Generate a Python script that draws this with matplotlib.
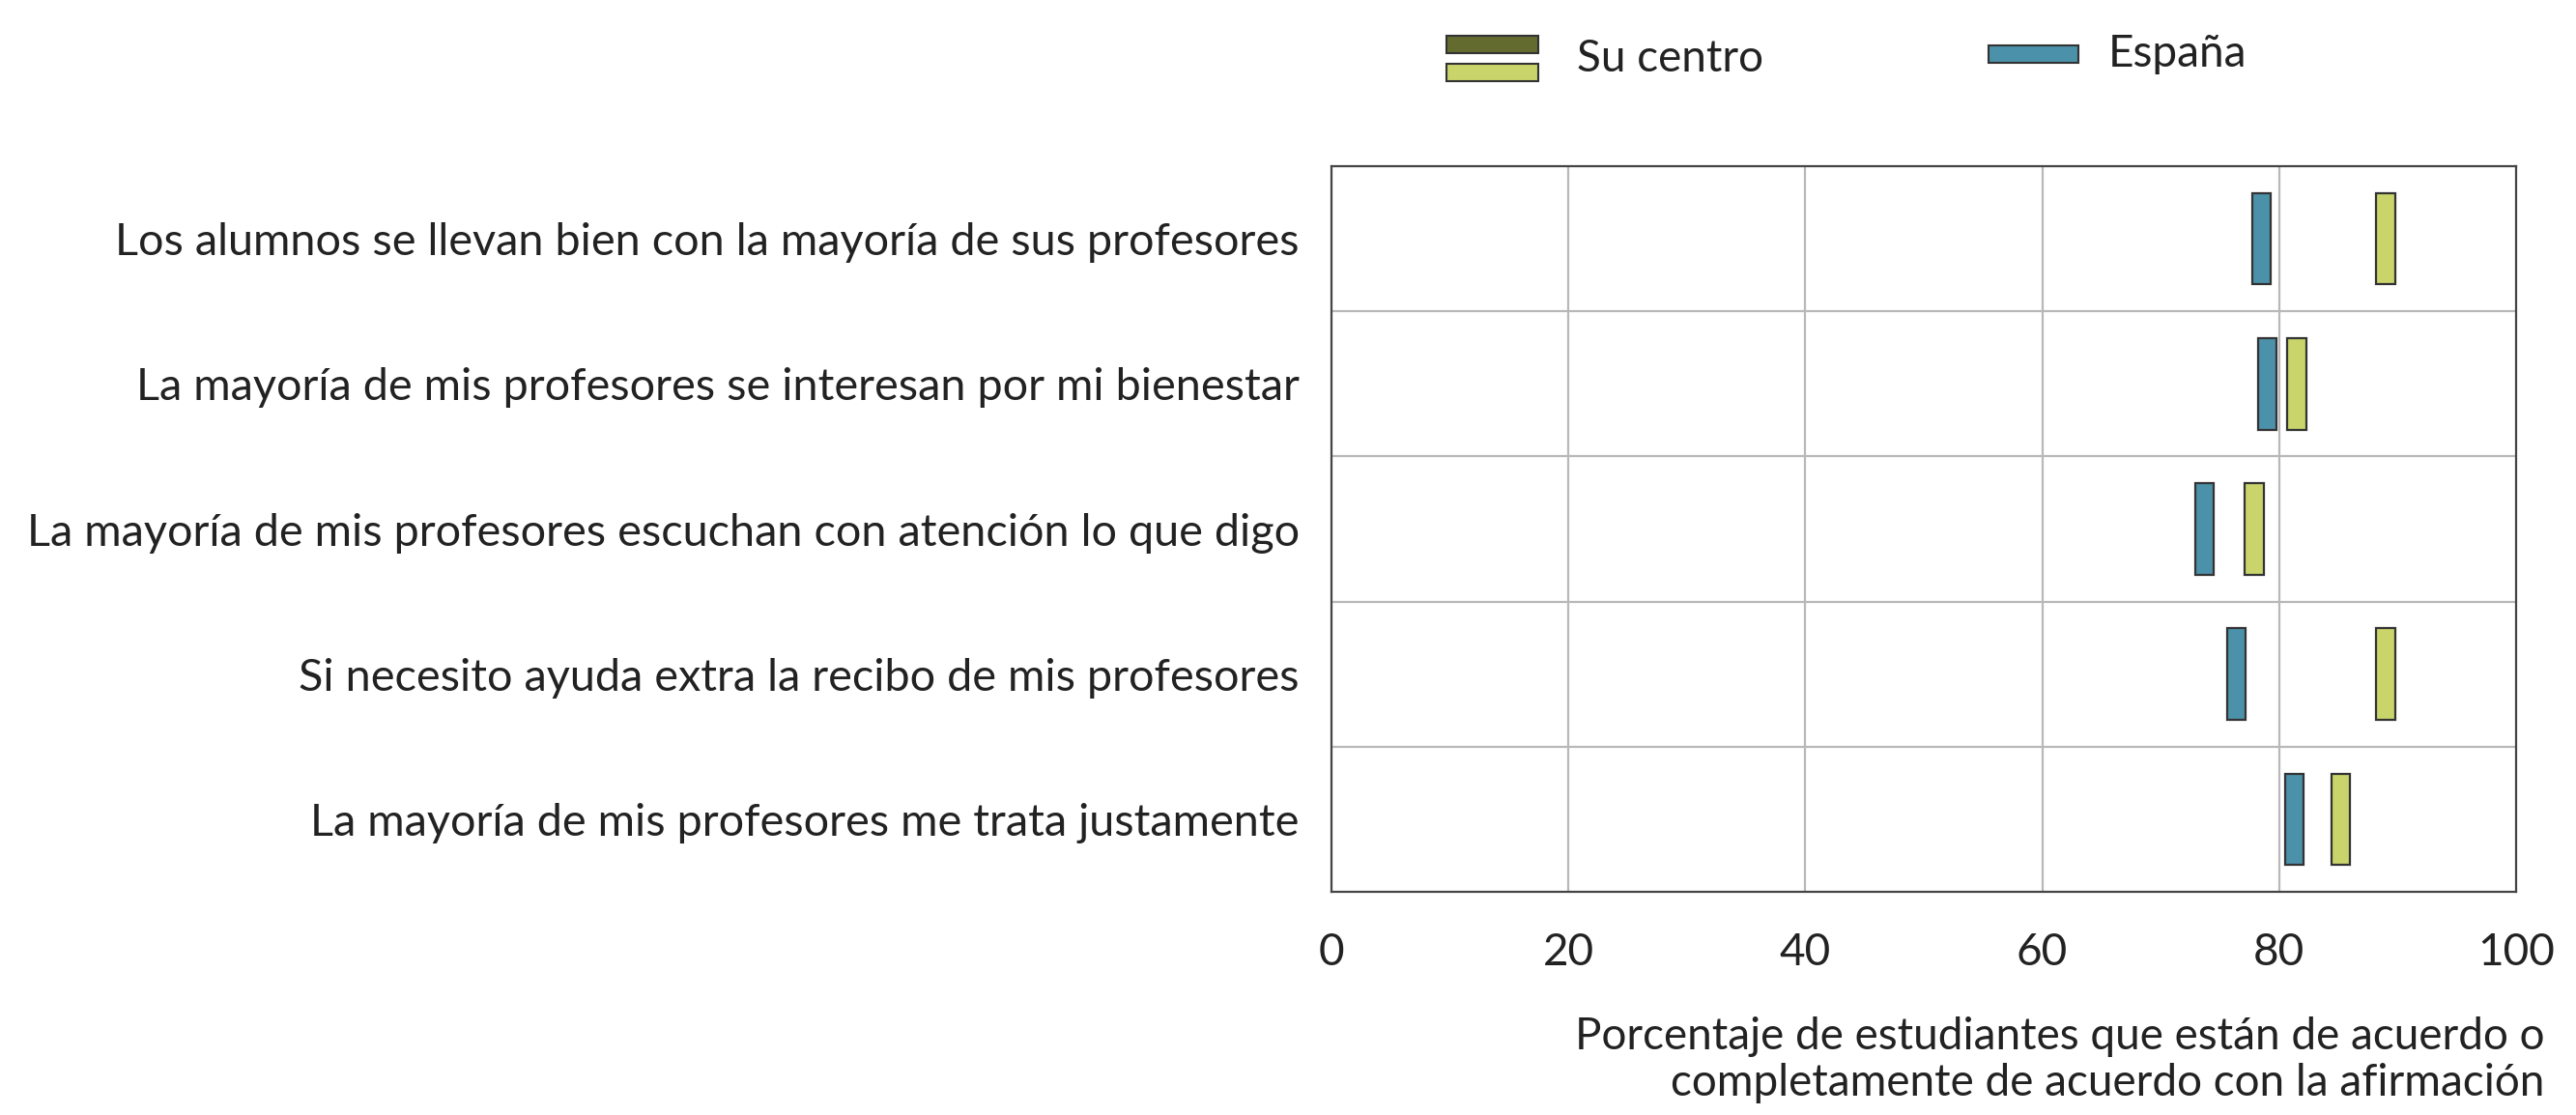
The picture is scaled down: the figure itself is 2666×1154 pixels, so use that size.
import matplotlib

matplotlib.use("Agg")
import matplotlib.pyplot as plt
from matplotlib.patches import Rectangle
import numpy as np

# Data
statements = [
    "Los alumnos se llevan bien con la mayoría de sus profesores",
    "La mayoría de mis profesores se interesan por mi bienestar",
    "La mayoría de mis profesores escuchan con atención lo que digo",
    "Si necesito ayuda extra la recibo de mis profesores",
    "La mayoría de mis profesores me trata justamente",
]
espana = [78.5, 79.0, 73.7, 76.4, 81.3]
su_centro = [89.0, 81.5, 77.9, 89.0, 85.2]
x_ticks = [0, 20, 40, 60, 80, 100]
x_label = (
    "Porcentaje de estudiantes que están de acuerdo o\n"
    "completamente de acuerdo con la afirmación"
)

BLUE = "#4b91a9"
LIGHT_GREEN = "#c9d46b"
DARK_OLIVE = "#646b2e"
EDGE = "#333333"
GRID = "#b8b8b8"

plt.rcParams["font.family"] = ["Lato", "DejaVu Sans"]

fig = plt.figure(figsize=(26.66, 11.54), dpi=100)
ax = fig.add_axes((0.5169, 0.2, 0.4598, 0.651))

n = len(statements)
rows = np.arange(n)[::-1]  # first statement at top
bar_h = 0.63
bar_w = 1.6

ax.bar(espana, bar_h, width=bar_w, bottom=rows - bar_h / 2,
       color=BLUE, edgecolor=EDGE, linewidth=1.6, zorder=3)
ax.bar(su_centro, bar_h, width=bar_w, bottom=rows - bar_h / 2,
       color=LIGHT_GREEN, edgecolor=EDGE, linewidth=1.6, zorder=3)

ax.set_xlim(0, 100)
ax.set_ylim(-0.5, n - 0.5)

ax.set_xticks(x_ticks)
ax.set_xticklabels([str(t) for t in x_ticks], fontsize=33, color="#222222")
ax.set_yticks(rows)
ax.set_yticklabels(statements, fontsize=33.7, color="#222222")
ax.tick_params(axis="x", length=0, pad=30)
ax.tick_params(axis="y", length=0, pad=24)

# grid: vertical lines at ticks, horizontal lines between rows
for t in x_ticks[1:-1]:
    ax.axvline(t, color=GRID, linewidth=1.6, zorder=1)
for b in np.arange(0.5, n - 0.5, 1.0):
    ax.axhline(b, color=GRID, linewidth=1.6, zorder=1)

for spine in ax.spines.values():
    spine.set_color("#444444")
    spine.set_linewidth(1.6)

ax.set_xlabel(x_label, fontsize=33, color="#222222", ha="right",
              multialignment="right", linespacing=1.15)
ax.xaxis.set_label_coords(1.024, -0.172, transform=ax.transAxes)
ax.xaxis.label.set_va("top")

# legend drawn by hand to mirror the stacked patches in the reference
W, H = 2666, 1154


def fig_rect(x0, y0, x1, y1, color):
    fig.patches.append(
        Rectangle((x0 / W, 1 - y1 / H), (x1 - x0) / W, (y1 - y0) / H,
                  facecolor=color, edgecolor=EDGE, linewidth=1.5,
                  transform=fig.transFigure, figure=fig)
    )


fig_rect(1497, 37, 1592, 55, DARK_OLIVE)
fig_rect(1497, 66, 1592, 84, LIGHT_GREEN)
fig.text(1632 / W, 1 - 61 / H, "Su centro", fontsize=33, color="#222222",
         va="center", ha="left")
fig_rect(2058, 47, 2151, 65, BLUE)
fig.text(2182 / W, 1 - 56 / H, "España", fontsize=33, color="#222222",
         va="center", ha="left")

fig.savefig("out.png", dpi=100)
